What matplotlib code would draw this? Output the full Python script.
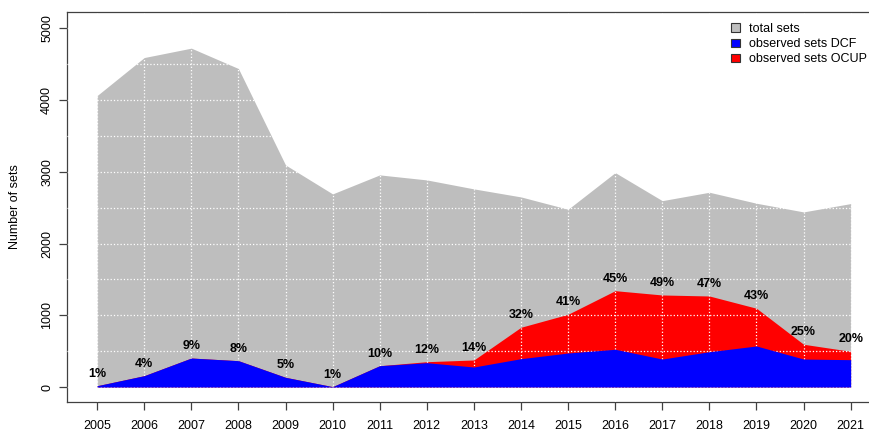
import matplotlib
matplotlib.use("Agg")
import matplotlib.pyplot as plt
from matplotlib.patches import Patch

plt.rcParams['font.family'] = ['Liberation Sans', 'DejaVu Sans']

years = list(range(2005, 2022))
total_sets = [4063, 4593, 4724, 4440, 3096, 2692, 2957, 2887, 2762,
              2650, 2478, 2989, 2598, 2715, 2562, 2441, 2557]
dcf_sets = [18, 158, 404, 367, 135, 5, 297, 339, 279,
            395, 474, 526, 390, 492, 572, 390, 381]
ocup_sets = [0, 0, 0, 0, 0, 0, 0, 14, 98,
             438, 540, 817, 893, 777, 526, 206, 117]
pct_labels = ['1%', '4%', '9%', '8%', '5%', '1%', '10%', '12%', '14%',
              '32%', '41%', '45%', '49%', '47%', '43%', '25%', '20%']

observed = [d + o for d, o in zip(dcf_sets, ocup_sets)]

fig = plt.figure(figsize=(8.7, 4.32), dpi=100)
# right edge of the plot box runs past the picture, as in the original
ax = fig.add_axes([0.077, 0.0701, 0.9354, 0.9028])

ax.fill_between(years, 0, total_sets, color='#BEBEBE', lw=0, zorder=1)
ax.fill_between(years, 0, observed, color='#FF0000', lw=0, zorder=2)
ax.fill_between(years, 0, dcf_sets, color='#0000FF', lw=0, zorder=3)

ax.set_xlim(2004.36, 2021.64)
ax.set_ylim(-205, 5232)

ax.set_xticks(years)
ax.set_xticklabels([str(y) for y in years])
ax.set_yticks(range(0, 5001, 1000))
ax.set_yticks(range(500, 5000, 1000), minor=True)
ax.tick_params(axis='y', which='minor', length=0)
ax.tick_params(axis='both', which='major', direction='out', length=6,
               width=0.9, color='#404040', labelsize=9)
ax.tick_params(axis='x', which='major', pad=7)
ax.tick_params(axis='y', which='major', pad=4)
for lab in ax.get_yticklabels():
    lab.set_rotation(90)
    lab.set_va('center')

ax.grid(True, which='both', color='white', linestyle=':', linewidth=0.9, zorder=4)
ax.set_axisbelow(False)
for sp in ax.spines.values():
    sp.set_color('#404040')
    sp.set_linewidth(0.9)

for x, top, txt in zip(years, observed, pct_labels):
    ax.annotate(txt, (x, top), xytext=(0, 12), textcoords='offset pixels',
                ha='center', va='center', fontsize=9, fontweight='bold', zorder=5)

fig.text(0.0175, 0.5215, 'Number of sets', rotation=90, ha='center', va='center', fontsize=9)

handles = [Patch(facecolor='#BEBEBE', edgecolor='#333333', lw=0.8),
           Patch(facecolor='#0000FF', edgecolor='#333333', lw=0.8),
           Patch(facecolor='#FF0000', edgecolor='#333333', lw=0.8)]
# shifted a little left so the last label stays inside the picture
fig.legend(handles, ['total sets', 'observed sets DCF', 'observed sets OCUP'],
           loc='upper left', bbox_to_anchor=(731 / 870, 1 - 23 / 432),
           frameon=False, fontsize=9, borderpad=0, borderaxespad=0,
           handlelength=0.75, handleheight=0.65, handletextpad=0.7,
           labelspacing=0.25)

fig.savefig('out.png', dpi=100)
